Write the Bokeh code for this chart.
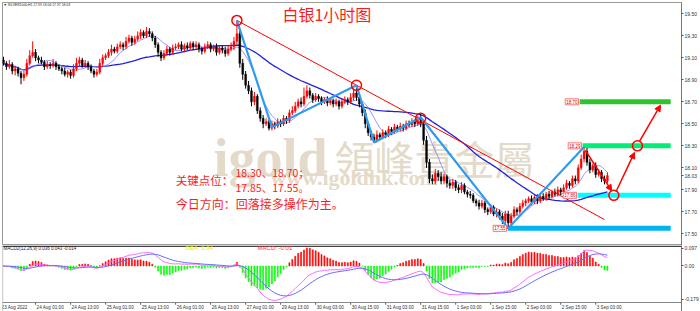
import pandas as pd
from bokeh.plotting import figure
from bokeh.layouts import column
from bokeh.models import (Range1d, FixedTicker, Label, Arrow, NormalHead, Span,
                          ColumnDataSource, NumeralTickFormatter)
from bokeh.embed import file_html
from bokeh.resources import INLINE
from bokeh.core.properties import value

# ---------------- data ----------------
first_open = 19.08
close = [
 19.05,19.02,19.04,18.98,19.00,18.96,18.92,18.95,19.05,19.12,
 19.15,19.10,19.08,19.06,19.02,19.04,19.03,19.05,19.02,19.00,
 18.98,18.95,18.97,18.94,19.00,19.05,19.08,19.03,19.05,19.02,
 18.98,18.95,18.97,19.05,19.10,19.12,19.15,19.18,19.16,19.20,
 19.22,19.20,19.25,19.28,19.24,19.27,19.30,19.33,19.30,19.34,
 19.32,19.28,19.22,19.15,19.10,19.14,19.18,19.15,19.19,19.20,
 19.22,19.18,19.21,19.19,19.23,19.20,19.22,19.18,19.16,19.20,
 19.22,19.18,19.20,19.15,19.19,19.17,19.14,19.18,19.20,19.25,
 19.32,19.05,18.95,18.85,18.80,18.70,18.75,18.62,18.55,18.50,
 18.52,18.46,18.50,18.48,18.52,18.50,18.55,18.53,18.60,18.62,
 18.66,18.70,18.68,18.75,18.80,18.76,18.72,18.75,18.73,18.70,
 18.72,18.69,18.71,18.68,18.70,18.66,18.70,18.72,18.70,18.74,
 18.78,18.74,18.68,18.60,18.50,18.42,18.38,18.35,18.40,18.38,
 18.42,18.40,18.45,18.43,18.47,18.45,18.48,18.46,18.50,18.49,
 18.52,18.50,18.53,18.50,18.35,18.15,18.00,17.98,18.05,18.02,
 17.98,18.02,17.96,17.94,17.97,17.92,17.90,17.94,17.88,17.86,
 17.85,17.80,17.78,17.75,17.78,17.72,17.70,17.74,17.68,17.70,
 17.66,17.62,17.68,17.60,17.66,17.72,17.70,17.75,17.78,17.80,
 17.82,17.79,17.83,17.80,17.84,17.82,17.86,17.84,17.88,17.86,
 17.90,17.88,17.92,17.96,17.94,18.00,17.98,18.10,18.18,18.25,
 18.15,18.08,18.12,18.04,18.06,18.00,17.98,18.03]
# upper / lower shadow lengths in cents
up_wick = [
 3,2,4,2,3,2,2,3,4,5, 10,3,2,3,2,3,2,4,2,2, 2,3,2,2,4,5,3,2,3,2,
 2,2,3,4,3,2,3,4,2,3, 3,2,4,3,2,3,4,3,2,4, 3,2,2,2,2,3,3,2,3,3,
 2,3,2,3,2,2,3,2,2,3, 3,2,2,3,2,2,3,3,4,4, 12,3,4,3,4,3,4,2,3,3,
 3,2,3,2,3,2,3,2,3,4, 4,3,4,8,5,3,2,3,2,2, 2,3,2,2,3,2,3,3,2,4,
 4,7,3,2,3,2,2,3,4,2, 3,2,3,2,3,2,3,2,3,3, 3,2,4,6,3,4,3,4,4,3,
 4,3,2,3,3,2,3,3,2,2, 3,2,2,3,3,2,2,3,2,3, 2,3,3,3,3,3,2,3,3,2,
 2,3,2,3,2,3,2,3,2,3, 3,2,3,3,2,3,3,3,4,4, 3,3,2,3,3,2,3,3]
low_wick = [
 2,3,2,3,4,3,6,3,2,2, 2,3,3,2,3,2,3,2,3,2, 3,2,3,3,2,2,3,2,2,3,
 2,3,2,2,3,2,2,3,2,2, 2,3,2,2,3,2,2,3,2,2, 3,3,3,4,3,2,2,3,2,2,
 2,2,3,2,2,3,2,3,3,2, 2,3,2,3,2,3,3,2,2,3, 3,4,5,3,3,4,3,3,3,4,
 2,2,2,3,2,3,2,3,2,2, 2,2,3,2,2,3,3,2,3,3, 2,3,2,3,2,3,2,2,3,2,
 3,3,3,3,4,3,3,2,2,3, 2,3,2,3,2,2,2,3,2,2, 2,3,2,3,4,5,4,3,3,4,
 3,3,4,3,3,3,3,3,2,3, 3,2,3,3,2,3,3,2,2,3, 3,3,3,5,3,2,3,2,2,3,
 2,3,2,3,2,2,2,3,2,2, 2,3,2,2,3,2,3,2,2,3, 3,3,2,3,2,3,3,2]

price_ticks = [17.50, 17.70, 17.90, 18.03, 18.10, 18.30, 18.50, 18.70, 18.90, 19.10, 19.30, 19.50]
macd_ticks = [0.097, 0.0, -0.179]
date_ticks = [-1, 11, 23, 35, 47, 59, 71, 83, 95, 107, 119, 131, 143, 155, 167, 179, 191, 203]
date_labels = ["23 Aug 2022", "24 Aug 01:00", "24 Aug 13:00", "25 Aug 01:00", "25 Aug 13:00",
               "26 Aug 01:00", "26 Aug 13:00", "27 Aug 01:00", "29 Aug 13:00", "30 Aug 03:00",
               "30 Aug 15:00", "31 Aug 03:00", "31 Aug 15:00", "1 Sep 03:00", "1 Sep 15:00",
               "2 Sep 03:00", "2 Sep 15:00", "3 Sep 03:00"]

# zigzag pivots, trend line, key levels, marks
zig_x = [80, 92, 121, 127, 143, 173, 199]
zig_y = [19.44, 18.47, 18.85, 18.33, 18.56, 17.55, 18.29]
trend_x = [80, 206]
trend_y = [19.44, 17.63]
level_values = [18.70, 18.30, 17.85, 17.55]
level_start = [197.5, 198.5, 196.8, 172.8]
level_end = [228.7, 228.7, 228.7, 228.7]
level_tags = ["18.70", "18.29", "17.86", "17.55"]
level_colors = ["#2EC42E", "#00EE76", "#00FFFF", "#00B4F0"]
circle_x = [80, 121, 143, 209.2, 217.3]
circle_y = [19.44, 18.85, 18.55, 17.85, 18.30]
arrow_x0 = [199.4, 209.9, 218.0]
arrow_y0 = [18.26, 17.88, 18.34]
arrow_x1 = [208.5, 216.3, 225.2]
arrow_y1 = [17.89, 18.24, 18.67]

# ---------------- derived ----------------
n = len(close)
xs = list(range(n))
opens = [first_open] + close[:-1]
highs = [max(o, c) + u / 100 for o, c, u in zip(opens, close, up_wick)]
lows = [min(o, c) - d / 100 for o, c, d in zip(opens, close, low_wick)]
colors = ["#FF0000" if c >= o else "#000000" for o, c in zip(opens, close)]
tops = [max(o, c) if abs(o - c) > 0.002 else max(o, c) + 0.003 for o, c in zip(opens, close)]
bots = [min(o, c) for o, c in zip(opens, close)]
cs = pd.Series(close)
ma_fast = cs.rolling(8, min_periods=1).mean()
ma_slow = cs.rolling(40, min_periods=1).mean()
ema12 = cs.ewm(span=12, adjust=False).mean()
ema26 = cs.ewm(span=26, adjust=False).mean()
dif = ema12 - ema26
dea = dif.ewm(span=9, adjust=False).mean()
hist = 2 * (dif - dea)
hist_col = ["#FF0000" if h >= 0 else "#00FF00" for h in hist]

src = ColumnDataSource(dict(x=xs, o=opens, c=close, h=highs, l=lows, col=colors,
                            top=tops, bot=bots, maf=ma_fast, mas=ma_slow))
msrc = ColumnDataSource(dict(x=xs, dif=dif, dea=dea, hist=hist, hcol=hist_col))

AXF = "Liberation Sans"
XR = Range1d(-0.343, 232.4)


def style_right_axis(ax):
    ax.axis_line_color = "#777777"
    ax.major_tick_out = 2
    ax.major_tick_in = 0
    ax.minor_tick_out = 0
    ax.minor_tick_in = 0
    ax.major_tick_line_color = "#555555"
    ax.major_label_standoff = 1
    ax.major_label_text_font = AXF
    ax.major_label_text_font_size = "5px"
    ax.major_label_text_color = "#333333"


# ---------------- main panel ----------------
p1 = figure(frame_width=679, frame_height=243, x_range=XR,
            y_range=Range1d(17.394, 19.603), x_axis_location=None, y_axis_location="right",
            toolbar_location=None, output_backend="svg", min_border_left=2, min_border_top=2,
            min_border_bottom=0, min_border_right=0)
p1.grid.visible = False
p1.outline_line_color = "#999999"
p1.background_fill_color = "white"
ya = p1.yaxis[0]
ya.ticker = FixedTicker(ticks=price_ticks)
ya.formatter = NumeralTickFormatter(format="0.00")
style_right_axis(ya)

# watermark
p1.text(x=[72.0], y=[18.19], text=["igold"], text_font=value("Liberation Serif"),
        text_font_style="bold", text_font_size="54px", text_color="#E3DACA",
        text_baseline="alphabetic", text_align="left")
p1.text(x=[113.5], y=[18.19], text=["領峰貴金屬"], text_font=value("Noto Sans CJK TC"),
        text_font_size="40px", text_color="#E3DACA", text_baseline="alphabetic", text_align="left")
p1.text(x=[91.5], y=[18.01], text=["www.igoldhk.com"], text_font=value("Liberation Serif"),
        text_font_style="bold", text_font_size="22px", text_color="#E3DACA",
        text_baseline="alphabetic", text_align="left")

# key levels
p1.segment(x0=level_start, y0=level_values, x1=level_end, y1=level_values,
           line_color=level_colors, line_width=5, line_cap="butt")

# moving averages
p1.line("x", "mas", source=src, line_color="#1F1FE0", line_width=1.3)
p1.line("x", "maf", source=src, line_color="#7D7DFF", line_width=0.8)

# candles
p1.segment(x0="x", y0="l", x1="x", y1="h", source=src, line_color="col", line_width=1)
p1.vbar(x="x", width=0.65, top="top", bottom="bot", source=src, fill_color="col",
        line_color="col", line_width=0.4)

# trend line and zigzag
p1.line(trend_x, trend_y, line_color="#FF0000", line_width=1)
p1.line(zig_x, zig_y, line_color="#2E9BF0", line_width=2.2)
p1.scatter(circle_x, circle_y, marker="circle", size=10, fill_color=None,
           line_color="#FF0000", line_width=1.5)
for x0, y0, x1, y1 in zip(arrow_x0, arrow_y0, arrow_x1, arrow_y1):
    p1.add_layout(Arrow(end=NormalHead(size=6, fill_color="#FF0000", line_color="#FF0000"),
                        x_start=x0, y_start=y0, x_end=x1, y_end=y1,
                        line_color="#FF0000", line_width=1.5))

# level tags
for ls, lv, tg in zip(level_start, level_values, level_tags):
    p1.add_layout(Label(x=ls - 0.4, y=lv, text=tg, text_align="right", text_baseline="middle",
                        text_font=AXF, text_font_size="4.5px", text_color="#E00000",
                        background_fill_color="white", border_line_color="#FF7070",
                        border_line_width=1, padding=1))

# header
p1.add_layout(Label(x=0.0, y=19.576, text="\u25bc SILVER1000,H1  17.99 18.06 17.97 18.03",
                    text_align="left", text_baseline="middle", text_font=AXF,
                    text_font_size="3.4px", text_color="#222222"))

# title and commentary
CJK = value("Noto Sans CJK SC")
p1.text(x=[95.6], y=[19.494], text=["白银1小时图"], text_font=CJK, text_font_size="16px",
        text_color="#FF1A1A", text_baseline="middle", text_align="left")
p1.text(x=[59.0], y=[17.985], text=["关键点位："], text_font=CJK, text_font_size="11.5px",
        text_color="#FF1A1A", text_baseline="middle", text_align="left")
p1.text(x=[79.5, 79.5], y=[18.060, 17.921], text=["18.30、18.70；", "17.85、17.55。"],
        text_font=CJK, text_font_size="10.5px", text_color="#FF1A1A",
        text_baseline="middle", text_align="left")
p1.text(x=[59.0], y=[17.776], text=["今日方向：回落接多操作为主。"], text_font=CJK,
        text_font_size="12px", text_color="#FF1A1A", text_baseline="middle", text_align="left")

# ---------------- MACD panel (with the time scale row at its foot) ----------------
# frame: canvas y 245 .. 311; indicator window ends at canvas y 302
MACD_BOTTOM = -0.1976
p2 = figure(frame_width=679, frame_height=66, x_range=XR,
            y_range=Range1d(-0.2463, 0.1108), x_axis_location=None, y_axis_location="right",
            toolbar_location=None, output_backend="svg", min_border_left=2, min_border_top=0,
            min_border_bottom=0, min_border_right=0)
p2.grid.visible = False
p2.outline_line_color = None
p2.vbar(x="x", width=0.35, top="hist", bottom=0, source=msrc, fill_color="hcol",
        line_color="hcol", line_width=0.6)
p2.line("x", "dif", source=msrc, line_color="#FF6BFF", line_width=1)
p2.line("x", "dea", source=msrc, line_color="#6B6BFF", line_width=1)
p2.add_layout(Span(location=0.1068, dimension="width", line_color="#444444", line_width=1.5))
p2.add_layout(Span(location=MACD_BOTTOM, dimension="width", line_color="#888888", line_width=1))
p2.add_layout(Span(location=-0.3, dimension="height", line_color="#999999", line_width=1))

# time scale
p2.segment(x0=date_ticks, y0=[MACD_BOTTOM] * len(date_ticks), x1=date_ticks,
           y1=[-0.2095] * len(date_ticks), line_color="#555555", line_width=1)
p2.text(x=[t + 0.35 for t in date_ticks], y=[-0.2225] * len(date_ticks), text=date_labels,
        text_font=value(AXF), text_font_size="4.6px", text_color="#333333",
        text_baseline="middle", text_align="left")

y2 = p2.yaxis[0]
y2.ticker = FixedTicker(ticks=macd_ticks)
y2.major_label_overrides = {0.097: "0.097", 0: "0.00", -0.179: "-0.179"}
style_right_axis(y2)

p2.add_layout(Label(x=0.0, y=0.0946, text="MACD2(12,26,9) 0.036 0.043 -0.014", text_align="left",
                    text_baseline="middle", text_font=AXF, text_font_size="4.5px",
                    text_color="#222222"))
p2.add_layout(Label(x=62.4, y=0.0946, text="DEA:  0.04", text_align="left", text_baseline="middle",
                    text_font=AXF, text_font_size="6px", text_color="#E8E800"))
p2.add_layout(Label(x=87.1, y=0.0946, text="MACD:  -0.01", text_align="left",
                    text_baseline="middle", text_font=AXF, text_font_size="6px",
                    text_color="#FF3030"))

layout = column(p1, p2, spacing=0)
open("out.html", "w").write(file_html(layout, INLINE))
